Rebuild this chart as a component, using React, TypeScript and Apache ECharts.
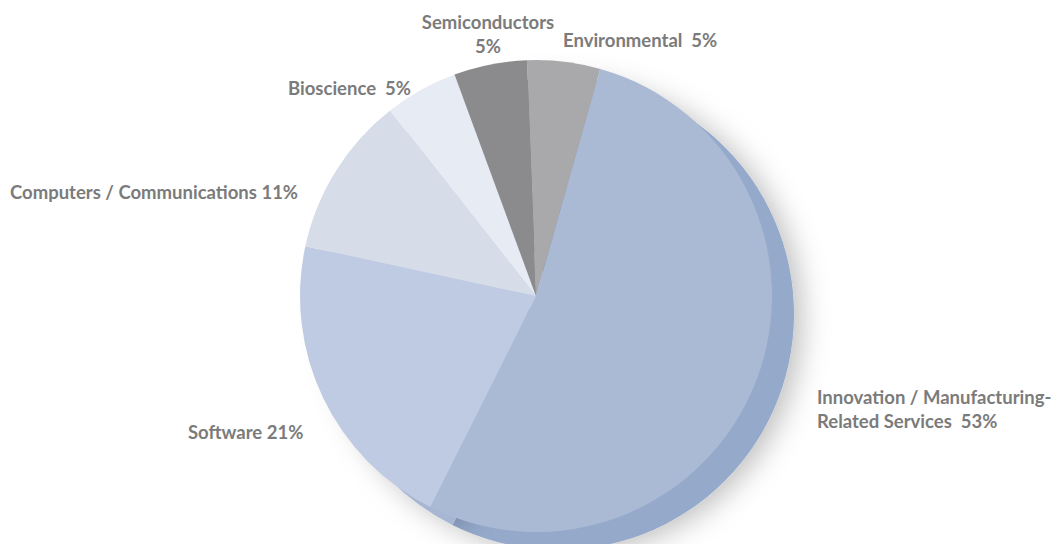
import React, { useEffect, useRef } from "react";
import * as echarts from "echarts";

const categories = [
  "Environmental",
  "Innovation / Manufacturing-Related Services",
  "Software",
  "Computers / Communications",
  "Bioscience",
  "Semiconductors",
];
const values = [5, 53, 21, 11, 5, 5];
const labelTexts = [
  "Environmental  5%",
  "Innovation / Manufacturing-\nRelated Services  53%",
  "Software 21%",
  "Computers / Communications 11%",
  "Bioscience  5%",
  "Semiconductors\n5%",
];
const colors = ["#a9a9ab", "#aabad5", "#bfcbe2", "#d6dde9", "#e7ebf3", "#8b8b8d"];
const sideColors = ["#9a9a9c", "#95a9cb", "#a7b7d3", "#c3cde0", "#d7deeb", "#7e7e80"];

// label anchor positions (layout only)
const labelPos = [
  { x: 563, y: 40, align: "left" },
  { x: 817, y: 409, align: "left" },
  { x: 188, y: 432, align: "left" },
  { x: 10, y: 192, align: "left" },
  { x: 288, y: 88, align: "left" },
  { x: 488, y: 34, align: "center" },
];

export default function App() {
  const ref = useRef<HTMLDivElement>(null);
  useEffect(() => {
    const chart = echarts.init(ref.current!, undefined, { renderer: "svg" });
    const cx = 536, cy = 296, r = 236;
    chart.setOption({
      animation: false,
      backgroundColor: "#ffffff",
      series: [
        {
          type: "pie",
          silent: true,
          center: [cx + 22, cy + 18],
          radius: r,
          startAngle: 92.2,
          label: { show: false },
          labelLine: { show: false },
          itemStyle: {
            shadowBlur: 28,
            shadowColor: "rgba(0,0,0,0.25)",
            shadowOffsetX: 8,
            shadowOffsetY: 4,
          },
          data: values.map((v, i) => ({
            value: v,
            name: categories[i] + " side",
            itemStyle: { color: sideColors[i] },
          })),
        },
        {
          type: "pie",
          center: [cx, cy],
          radius: r,
          startAngle: 92.2,
          labelLine: { show: false },
          label: {
            show: true,
            position: "inside",
            overflow: "none",
            formatter: (p: any) => labelTexts[p.dataIndex],
            color: "#7b7b7b",
            fontFamily: "Lato",
            fontWeight: "bold",
            fontSize: 18.5,
            lineHeight: 24,
          },
          labelLayout: (p: any) => {
            const pos = labelPos[p.dataIndex];
            return { x: pos.x, y: pos.y, align: pos.align, verticalAlign: "middle" };
          },
          data: values.map((v, i) => ({
            value: v,
            name: categories[i],
            itemStyle: { color: colors[i] },
          })),
        },
      ],
    });
    return () => chart.dispose();
  }, []);
  return <div ref={ref} style={{ width: 1062, height: 552, margin: -8 }} />;
}
